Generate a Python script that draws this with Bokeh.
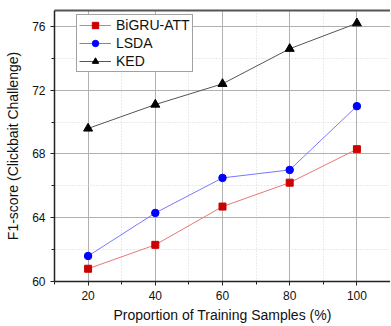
from bokeh.plotting import figure
from bokeh.models import LinearAxis, Legend, LegendItem, FixedTicker, Range1d
from bokeh.embed import file_html
from bokeh.resources import INLINE

x_vals = [20, 40, 60, 80, 100]
bigru_att = [60.8, 62.3, 64.7, 66.2, 68.3]
lsda = [61.6, 64.3, 66.5, 67.0, 71.0]
ked = [69.6, 71.1, 72.4, 74.6, 76.2]
x_ticks = [20, 40, 60, 80, 100]
x_minor = [10, 30, 50, 70, 90]
y_ticks = [60, 64, 68, 72, 76]
y_minor = [62, 66, 70, 74]

FONT = "Liberation Sans"

p = figure(frame_width=336, frame_height=271, output_backend="svg", toolbar_location=None,
           x_range=Range1d(10, 110), y_range=Range1d(60, 77),
           min_border_left=54, min_border_right=0, min_border_top=10, min_border_bottom=44)
p.outline_line_color = None
p.background_fill_color = "white"
p.border_fill_color = "white"

for g in (p.xgrid[0], p.ygrid[0]):
    g.grid_line_color = "#b0b0b0"
    g.grid_line_width = 1
    g.minor_grid_line_color = "#d6d6d6"
    g.minor_grid_line_dash = "1 2"
    g.minor_grid_line_width = 1

p.xaxis.ticker = FixedTicker(ticks=x_ticks, minor_ticks=x_minor)
p.yaxis.ticker = FixedTicker(ticks=y_ticks, minor_ticks=y_minor)

for ax in (p.xaxis[0], p.yaxis[0]):
    ax.axis_line_color = "#222222"
    ax.axis_line_width = 1.5
    ax.major_tick_line_color = "#222222"
    ax.minor_tick_line_color = "#222222"
    ax.major_tick_in = 0
    ax.major_tick_out = 4
    ax.minor_tick_in = 0
    ax.minor_tick_out = 3
    ax.major_label_text_font = FONT
    ax.major_label_text_font_size = "12px"
    ax.major_label_text_color = "#111111"
    ax.axis_label_text_font = FONT
    ax.axis_label_text_font_size = "14px"
    ax.axis_label_text_font_style = "normal"
    ax.axis_label_text_color = "#111111"
    ax.major_label_standoff = 5

p.xaxis.axis_label = "Proportion of Training Samples (%)"
p.yaxis.axis_label = "F1-score (Clickbait Challenge)"
p.xaxis.axis_label_standoff = 4
p.yaxis.axis_label_standoff = 8

top = LinearAxis(ticker=FixedTicker(ticks=[], minor_ticks=[]),
                 major_tick_line_color=None, minor_tick_line_color=None,
                 major_label_standoff=0,
                 axis_line_color="#555555", axis_line_width=2)
p.add_layout(top, "above")

l1 = p.line(x_vals, bigru_att, line_color="#e87878", line_width=1)
m1 = p.scatter(x_vals, bigru_att, marker="square", size=7, fill_color="#cc0000", line_color="#cc0000")
l2 = p.line(x_vals, lsda, line_color="#7878ff", line_width=1)
m2 = p.scatter(x_vals, lsda, marker="circle", size=7.5, fill_color="#0000ff", line_color="#0000ff")
l3 = p.line(x_vals, ked, line_color="#555555", line_width=1)
m3 = p.scatter(x_vals, ked, marker="triangle", size=9, fill_color="#000000", line_color="#000000")

legend = Legend(items=[LegendItem(label="BiGRU-ATT", renderers=[l1, m1]),
                       LegendItem(label="LSDA", renderers=[l2, m2]),
                       LegendItem(label="KED", renderers=[l3, m3])],
                location=(22, 209), margin=0, padding=2, spacing=2,
                label_height=16, glyph_height=16, glyph_width=32, label_standoff=5,
                label_text_font=FONT, label_text_font_size="14px", label_text_color="#111111",
                border_line_color="#444444", border_line_width=1, background_fill_alpha=1)
p.add_layout(legend)

open("out.html", "w").write(file_html(p, INLINE))
